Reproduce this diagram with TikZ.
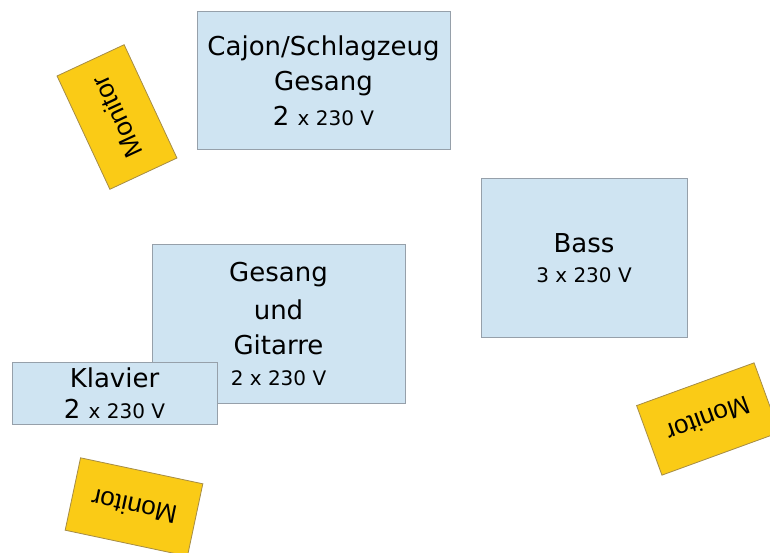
\documentclass[tikz,border=0pt]{standalone}
\usepackage{fontspec}
\setmainfont{DejaVu Sans}
\newfontfamily\monfont{Liberation Sans}
\definecolor{boxfill}{RGB}{207,228,242}
\definecolor{boxline}{RGB}{150,160,170}
\definecolor{monfill}{RGB}{250,203,22}
\definecolor{monline}{RGB}{165,140,70}
\newcommand\smf{\fontsize{20}{35}\selectfont}
\tikzset{
  stagebox/.style={draw=boxline, fill=boxfill, line width=1pt, rectangle, inner sep=0pt, align=center,
    font=\fontsize{26}{35}\selectfont},
  monbox/.style={draw=monline, fill=monfill, line width=0.8pt, rectangle, inner sep=0pt,
    minimum width=125pt, minimum height=74pt, font=\monfont\fontsize{26}{30}\selectfont},
}
\begin{document}
\begin{tikzpicture}[x=1pt,y=-1pt]
\clip (0,0) rectangle (770,553);
\fill[white] (0,0) rectangle (770,553);
\node[stagebox, minimum width=253pt, minimum height=138pt] (cajon) at (323.5,81)
  {Cajon/Schlagzeug\\ Gesang\\ 2 {\smf x 230 V}};
\node[stagebox, minimum width=206pt, minimum height=158pt] (bass) at (584,258)
  {Bass\\[-5pt] {\smf 3 x 230 V}};
\node[stagebox, minimum width=253pt, minimum height=159pt] (gesang) at (278.5,323.5)
  {Gesang\\[3pt] und\\ Gitarre\\[-4pt] {\smf 2 x 230 V}};
\node[stagebox, minimum width=205pt, minimum height=62pt] (klavier) at (114.5,393)
  {Klavier\\[-4pt] 2 {\smf x 230 V}};
\node[monbox, rotate=115] (mon1) at (117,117) {Monitor};
\node[monbox, rotate=200] (mon2) at (708,419) {Monitor};
\node[monbox, rotate=168] (mon3) at (134,507) {Monitor};
\end{tikzpicture}
\end{document}
